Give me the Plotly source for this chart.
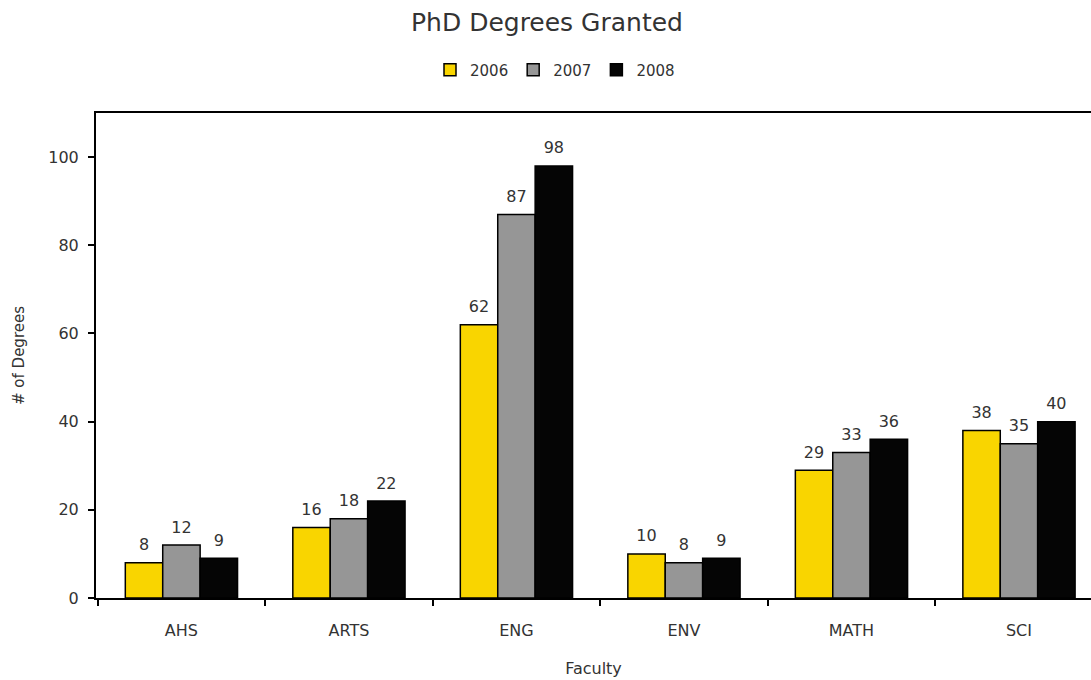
import plotly.graph_objects as go

categories = ["AHS", "ARTS", "ENG", "ENV", "MATH", "SCI"]
years = ["2006", "2007", "2008"]
v2006 = [8, 16, 62, 10, 29, 38]
v2007 = [12, 18, 87, 8, 33, 35]
v2008 = [9, 22, 98, 9, 36, 40]
colors = ["#F9D500", "#969696", "#050505"]

FONT = "DejaVu Sans"
TXT = "#333333"
W, H = 1091, 680

fig = go.Figure()
for name, vals, col in zip(years, [v2006, v2007, v2008], colors):
    fig.add_trace(go.Bar(
        x=categories, y=vals, name=name, offsetgroup=name,
        marker=dict(color=col, line=dict(color="#000000", width=1.5)),
        hoverinfo="x+y+name",
    ))
for name, vals in zip(years, [v2006, v2007, v2008]):
    fig.add_trace(go.Scatter(
        x=categories, y=vals, offsetgroup=name, mode="markers+text",
        marker=dict(size=12, opacity=0), text=[str(v) for v in vals],
        textposition="top center", textfont=dict(family=FONT, size=16, color=TXT),
        showlegend=False, hoverinfo="skip", cliponaxis=False,
    ))

fig.update_layout(
    width=W, height=H,
    barmode="group", bargap=0.33, bargroupgap=0,
    scattermode="group", scattergap=0.33,
    plot_bgcolor="white", paper_bgcolor="white",
    margin=dict(l=96, r=0, t=113, b=82),
    font=dict(family=FONT, size=16, color=TXT),
    title=dict(text="PhD Degrees Granted", x=547 / W, xref="container", xanchor="center",
               y=1 - 22 / H, yref="container", yanchor="middle",
               font=dict(family=FONT, size=25, color=TXT)),
    legend=dict(orientation="h", xref="container", x=555 / W, xanchor="center",
                yref="container", y=1 - 70 / H, yanchor="middle",
                font=dict(family=FONT, size=15, color=TXT),
                itemwidth=30, tracegroupgap=0),
    showlegend=True,
)
fig.update_xaxes(
    range=[-0.51, 5.43], showline=True, linecolor="#000000", linewidth=2, mirror=True,
    ticks="outside", tickson="boundaries", ticklen=6, tickcolor="#000000", tickwidth=1.5,
    showgrid=False, ticklabelstandoff=17,
    title=dict(text="Faculty", font=dict(family=FONT, size=16, color=TXT), standoff=24),
    tickfont=dict(family=FONT, size=16, color=TXT),
)
fig.update_yaxes(
    range=[0, 110], showline=True, linecolor="#000000", linewidth=2,
    ticks="outside", ticklen=6, tickcolor="#000000", tickwidth=1.5,
    tickvals=[0, 20, 40, 60, 80, 100], showgrid=False, zeroline=False,
    ticklabelstandoff=6,
    title=dict(text="# of Degrees", font=dict(family=FONT, size=15, color=TXT), standoff=20),
    tickfont=dict(family=FONT, size=16, color=TXT),
)
fig.write_html("out.html", config={"displayModeBar": False},
               post_script="document.body.style.margin='0';document.body.style.overflow='hidden';")
